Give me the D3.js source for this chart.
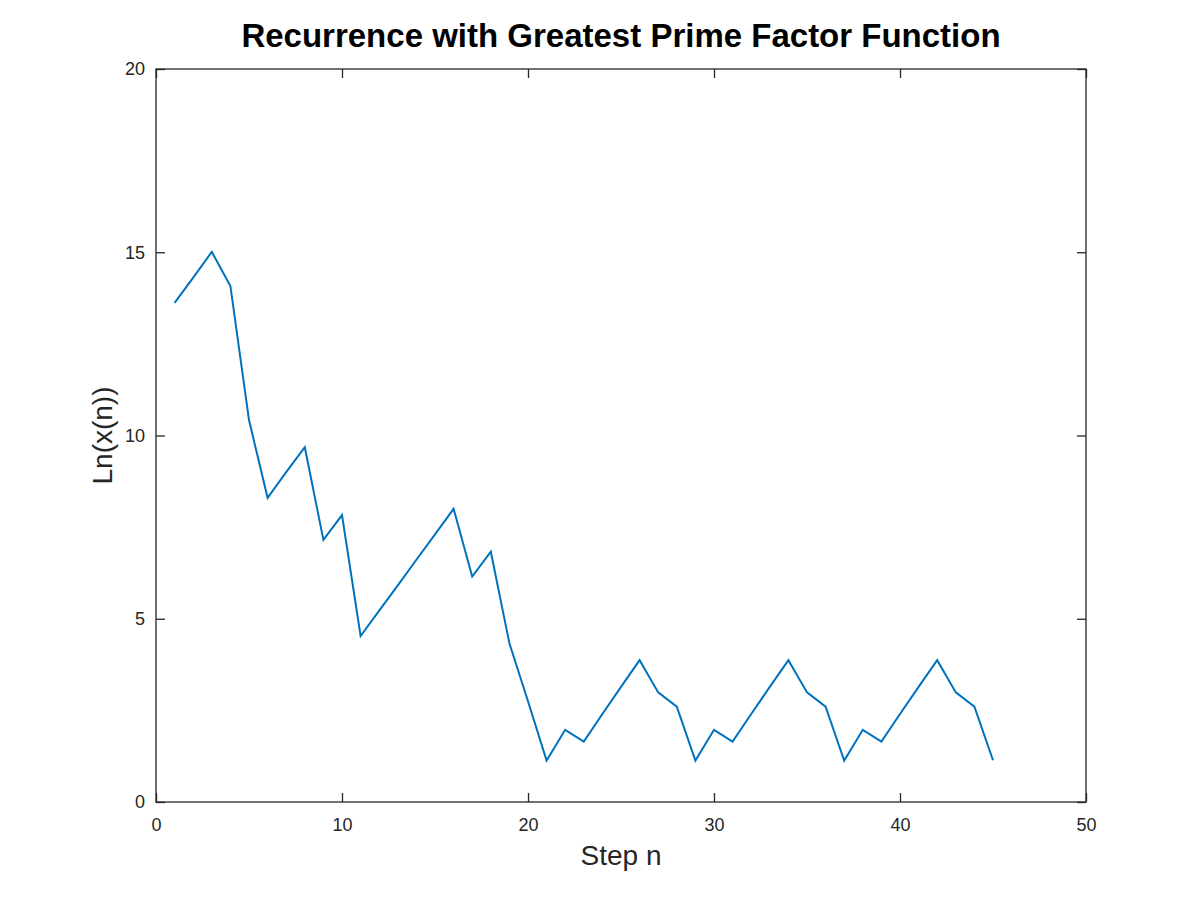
<!DOCTYPE html>
<html><head><meta charset="utf-8">
<script src="https://cdn.jsdelivr.net/npm/d3@7"></script>
<style>body{margin:0;background:#fff}svg{display:block}</style>
</head><body>
<script>
const steps = d3.range(1, 46);
const lnValues = [
  13.62, 14.31, 15.01, 14.08, 10.42, 8.30, 9.00, 9.68, 7.15, 7.83,
  4.53, 5.22, 5.91, 6.61, 7.30, 8.00, 6.15, 6.83, 4.33, 2.75,
  1.13, 1.97, 1.65, 2.40, 3.14, 3.87, 2.99, 2.60,
  1.13, 1.97, 1.65, 2.40, 3.14, 3.87, 2.99, 2.60,
  1.13, 1.97, 1.65, 2.40, 3.14, 3.87, 2.99, 2.60,
  1.14
];
const xTicks = [0, 10, 20, 30, 40, 50];
const yTicks = [0, 5, 10, 15, 20];

const W = 1200, H = 898;
const m = {left: 156, right: 1086, top: 69, bottom: 802};
const svg = d3.select("body").append("svg").attr("width", W).attr("height", H);
const x = d3.scaleLinear().domain([0, 50]).range([m.left, m.right]);
const y = d3.scaleLinear().domain([0, 20]).range([m.bottom, m.top]);
const font = "'Liberation Sans', Arial, Helvetica, sans-serif";
const axisColor = "#262626";
const tl = 9;

function styleAxis(g) {
  g.select(".domain").remove();
  g.selectAll(".tick line").attr("stroke", axisColor).attr("stroke-width", 1.3);
  g.selectAll(".tick text").attr("fill", axisColor).style("font-family", font).style("font-size", "18px");
}
svg.append("g").attr("transform", `translate(0,${m.bottom})`)
  .call(d3.axisBottom(x).tickValues(xTicks).tickSize(-tl).tickPadding(16).tickFormat(d3.format("d")))
  .call(styleAxis);
svg.append("g").attr("transform", `translate(0,${m.top})`)
  .call(d3.axisTop(x).tickValues(xTicks).tickSize(-tl).tickFormat(""))
  .call(styleAxis);
svg.append("g").attr("transform", `translate(${m.left},0)`)
  .call(d3.axisLeft(y).tickValues(yTicks).tickSize(-tl).tickPadding(11).tickFormat(d3.format("d")))
  .call(styleAxis);
svg.append("g").attr("transform", `translate(${m.right},0)`)
  .call(d3.axisRight(y).tickValues(yTicks).tickSize(-tl).tickFormat(""))
  .call(styleAxis);

svg.append("rect").attr("x", m.left).attr("y", m.top)
  .attr("width", m.right - m.left).attr("height", m.bottom - m.top)
  .attr("fill", "none").attr("stroke", axisColor).attr("stroke-width", 1.3);

const line = d3.line().x((d, i) => x(steps[i])).y(d => y(d));
svg.append("path").datum(lnValues).attr("d", line)
  .attr("fill", "none").attr("stroke", "#0072BD").attr("stroke-width", 2)
  .attr("stroke-linejoin", "miter");

svg.append("text").attr("x", (m.left + m.right) / 2).attr("y", 47)
  .attr("text-anchor", "middle").style("font-family", font).style("font-weight", "bold")
  .style("font-size", "33px").attr("fill", "#000")
  .text("Recurrence with Greatest Prime Factor Function");

svg.append("text").attr("x", (m.left + m.right) / 2).attr("y", 865)
  .attr("text-anchor", "middle").style("font-family", font)
  .style("font-size", "28px").attr("fill", axisColor).text("Step n");

svg.append("text").attr("transform", `translate(112,${(m.top + m.bottom) / 2}) rotate(-90)`)
  .attr("text-anchor", "middle").style("font-family", font)
  .style("font-size", "28px").attr("fill", axisColor).text("Ln(x(n))");
</script>
</body></html>
